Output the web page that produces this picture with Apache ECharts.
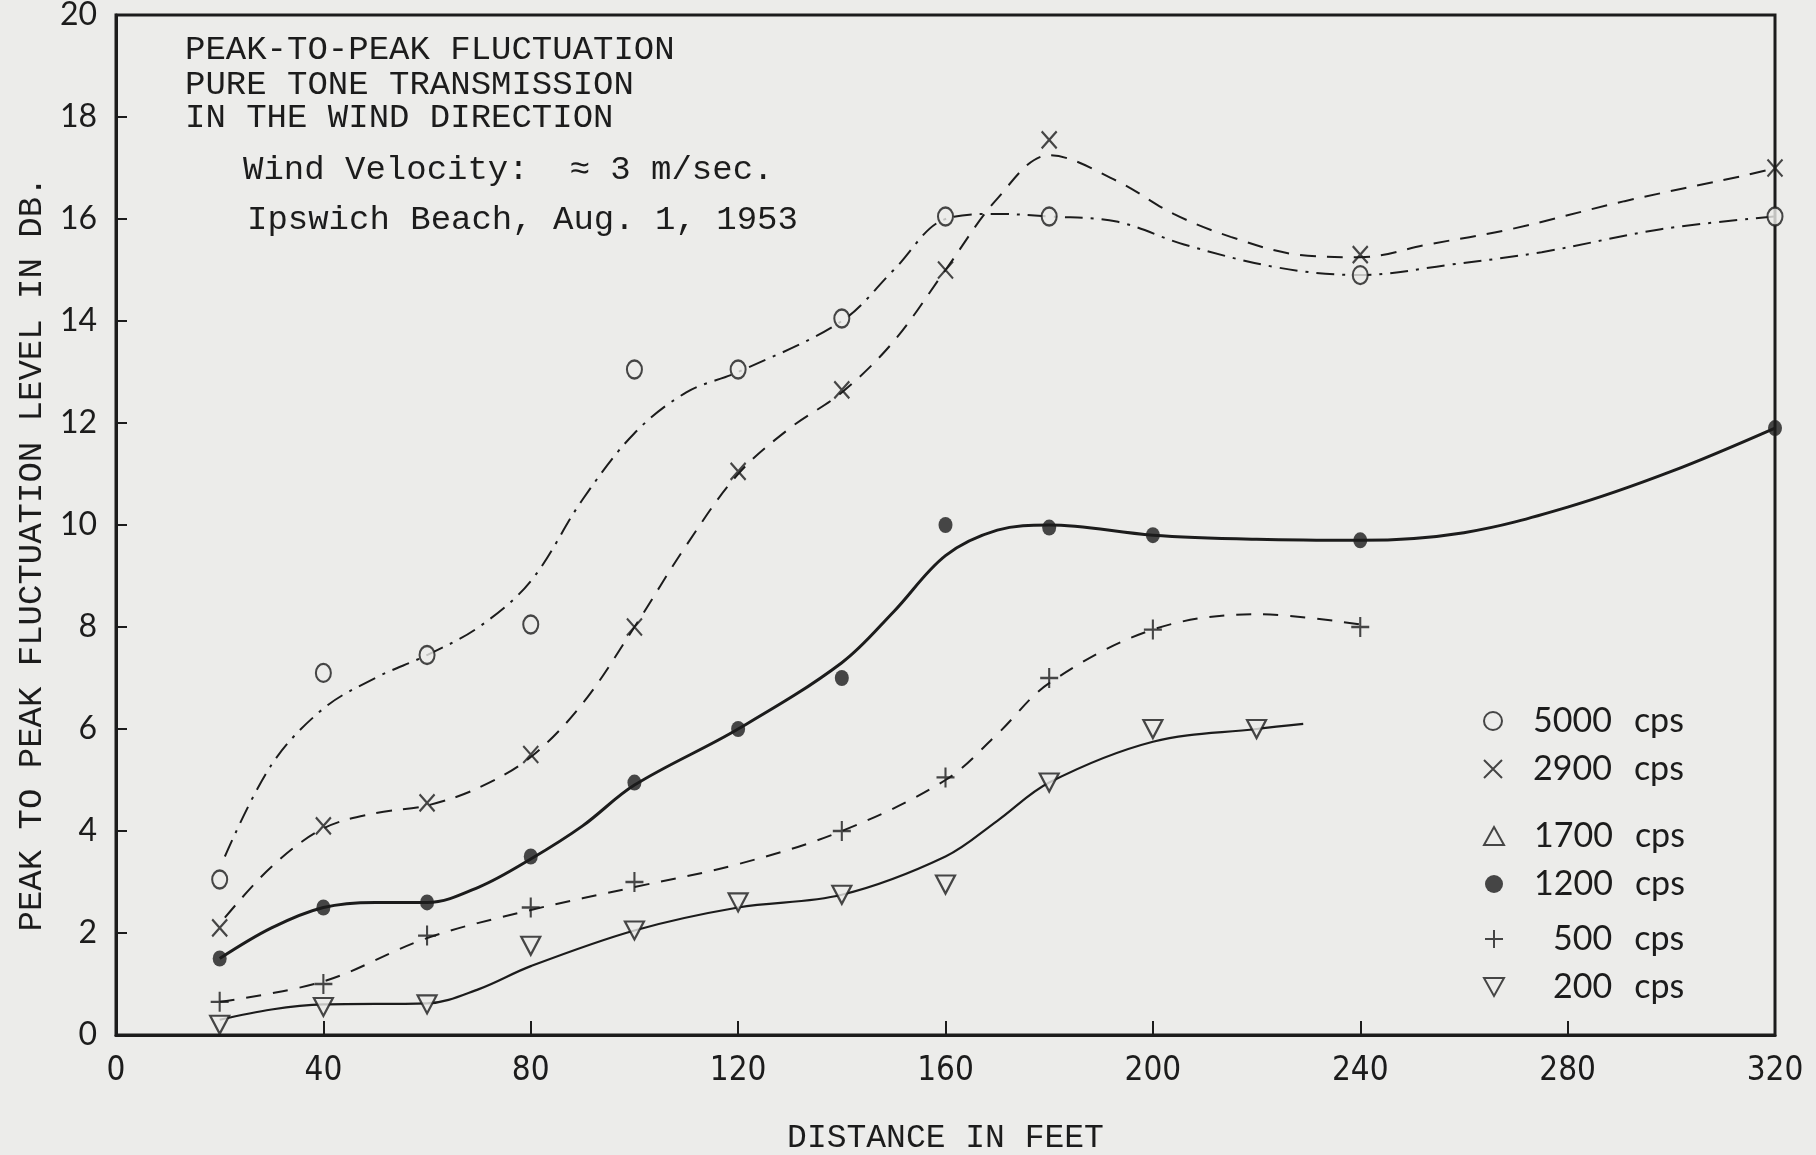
<!DOCTYPE html>
<html>
<head>
<meta charset="utf-8">
<title>Peak-to-peak fluctuation</title>
<script src="https://cdn.jsdelivr.net/npm/echarts/dist/echarts.min.js"></script>
<style>
  html, body { margin: 0; padding: 0; background: #ececea; }
  #main { width: 1816px; height: 1155px; }
</style>
</head>
<body>
<div id="main"></div>
<script>
// measured points (distance in feet, level in dB)
const dist5000 = [20, 40, 60, 80, 100, 120, 140, 160, 180, 240, 320];
const pts5000 = [3.05, 7.1, 7.45, 8.05, 13.05, 13.05, 14.05, 16.05, 16.05, 14.9, 16.05];
const dist2900 = [20, 40, 60, 80, 100, 120, 140, 160, 180, 240, 320];
const pts2900 = [2.1, 4.1, 4.55, 5.5, 8.0, 11.05, 12.65, 15.0, 17.55, 15.3, 17.0];
const dist1200 = [20, 40, 60, 80, 100, 120, 140, 160, 180, 200, 240, 320];
const pts1200 = [1.5, 2.5, 2.6, 3.5, 4.95, 6.0, 7.0, 10.0, 9.95, 9.8, 9.7, 11.9];
const dist500 = [20, 40, 60, 80, 100, 140, 160, 180, 200, 240];
const pts500 = [0.65, 1.0, 1.95, 2.5, 3.0, 4.0, 5.05, 7.0, 7.95, 8.0];
const dist200 = [20, 40, 60, 80, 100, 120, 140, 160, 180, 200, 220];
const pts200 = [0.2, 0.55, 0.6, 1.75, 2.05, 2.6, 2.75, 2.95, 4.95, 6.0, 6.0];

// hand-drawn curves
const cdist5000 = [21, 30, 40, 50, 60, 70, 80, 90, 100, 110, 120, 140, 150, 160, 170, 180, 193, 206, 224, 240, 257, 275, 298, 320];
const curve5000 = [3.5, 5.3, 6.4, 7.0, 7.45, 8.0, 8.9, 10.5, 11.8, 12.6, 13.0, 14.0, 15.0, 16.0, 16.1, 16.05, 15.95, 15.5, 15.05, 14.9, 15.1, 15.35, 15.8, 16.05];
const cdist2900 = [21, 30, 40, 50, 60, 70, 80, 90, 100, 110, 120, 130, 140, 150, 160, 170, 180, 193, 204, 215, 228, 240, 253, 269, 291, 314, 320];
const curve2900 = [2.3, 3.3, 4.05, 4.35, 4.5, 4.85, 5.45, 6.5, 8.0, 9.6, 11.0, 11.9, 12.6, 13.6, 15.0, 16.4, 17.25, 16.75, 16.1, 15.65, 15.3, 15.25, 15.5, 15.8, 16.35, 16.85, 17.0];
const cdist1200 = [20, 30, 40, 50, 60, 70, 80, 90, 100, 120, 140, 150, 160, 170, 180, 200, 220, 240, 260, 280, 300, 320];
const curve1200 = [1.5, 2.1, 2.5, 2.6, 2.6, 2.9, 3.45, 4.1, 4.9, 6.0, 7.3, 8.3, 9.4, 9.9, 10.0, 9.8, 9.72, 9.7, 9.85, 10.35, 11.05, 11.9];
const cdist500 = [20, 40, 60, 80, 100, 120, 140, 160, 170, 180, 200, 220, 240];
const curve500 = [0.65, 1.05, 1.9, 2.45, 2.9, 3.35, 4.0, 5.0, 5.9, 6.9, 7.95, 8.25, 8.05];
const cdist200 = [20, 30, 40, 60, 70, 80, 100, 120, 140, 160, 170, 180, 200, 220, 229];
const curve200 = [0.3, 0.5, 0.6, 0.62, 0.9, 1.35, 2.05, 2.5, 2.75, 3.5, 4.2, 4.95, 5.75, 6.0, 6.1];

const xTicks = [0, 40, 80, 120, 160, 200, 240, 280, 320];
const yTicks = [0, 2, 4, 6, 8, 10, 12, 14, 16, 18, 20];

const ink = '#1c1c1c';
const paper = '#ececea';
const mono = '"Liberation Mono", "DejaVu Sans Mono", monospace';
const lato = 'Lato, "Noto Sans", sans-serif';

function pairs(xs, ys) {
  return xs.map(function (x, i) { return [x, ys[i]]; });
}

function curve(name, xs, ys, type, width) {
  return {
    name: name,
    type: 'line',
    data: pairs(xs, ys),
    smooth: 0.35,
    symbol: 'none',
    silent: true,
    z: 2,
    lineStyle: { color: ink, width: width, type: type }
  };
}

function marks(name, xs, ys, symbol, size, filled) {
  return {
    name: name,
    type: 'scatter',
    data: pairs(xs, ys),
    symbol: symbol,
    symbolSize: size,
    z: 5,
    itemStyle: {
      color: filled ? ink : paper,
      borderColor: ink,
      borderWidth: filled ? 0 : 2.2
    }
  };
}

const crossPath = 'path://M0,0L10,10M10,0L0,10';
const plusPath = 'path://M5,0L5,10M0,5L10,5';
const downTri = 'path://M0,0L10,0L5,9Z';
const upTri = 'path://M5,0L10,9L0,9Z';

const chart = echarts.init(document.getElementById('main'));

const legendText = {
  fontFamily: lato,
  fontSize: 34,
  color: ink,
  lineHeight: 34,
  rich: {
    n4: { fontFamily: lato, fontSize: 34, color: ink, padding: [0, 0, 0, 25] },
    n3: { fontFamily: lato, fontSize: 34, color: ink, padding: [0, 0, 0, 44] },
    u: { fontFamily: lato, fontSize: 34, color: ink, padding: [0, 0, 0, 22] }
  }
};
function legendFmt(name) {
  const num = name.split(' ')[0];
  return '{' + (num.length === 4 ? 'n4' : 'n3') + '|' + num + '}{u|cps}';
}
function legendBlock(names, top) {
  return {
    data: names,
    orient: 'vertical',
    left: 1483,
    top: top,
    itemWidth: 20,
    itemHeight: 18,
    itemGap: 14,
    padding: 0,
    selectedMode: false,
    formatter: legendFmt,
    textStyle: legendText
  };
}

const titleLines = [
  ['PEAK-TO-PEAK FLUCTUATION', 185, 33],
  ['PURE TONE TRANSMISSION', 185, 68],
  ['IN THE WIND DIRECTION', 185, 101],
  ['Wind Velocity:  \u2248 3 m/sec.', 243, 153],
  ['Ipswich Beach, Aug. 1, 1953', 247, 203]
];

const option = {
  backgroundColor: paper,
  animation: false,
  title: titleLines.map(function (t) {
    return {
      text: t[0],
      left: t[1],
      top: t[2],
      padding: 0,
      textStyle: { fontFamily: mono, fontSize: 34, fontWeight: 'normal', color: ink, lineHeight: 34 }
    };
  }),
  legend: [
    legendBlock(['5000 cps', '2900 cps'], 704),
    legendBlock(['1700 cps', '1200 cps'], 819),
    legendBlock(['500 cps', '200 cps'], 922)
  ],
  grid: {
    left: 116, right: 41, top: 15, bottom: 120,
    outerBoundsMode: 'none',
    show: true, borderColor: ink, borderWidth: 3, backgroundColor: 'transparent'
  },
  xAxis: {
    type: 'value',
    min: xTicks[0],
    max: xTicks[xTicks.length - 1],
    interval: 40,
    name: 'DISTANCE IN FEET',
    nameLocation: 'middle',
    nameGap: 87,
    nameTextStyle: { fontFamily: mono, fontSize: 33, color: ink },
    axisLine: { lineStyle: { color: ink, width: 3 } },
    axisTick: { inside: true, length: 14, lineStyle: { color: ink, width: 2 } },
    axisLabel: {
      margin: 20,
      fontFamily: '"DejaVu Sans Condensed", "DejaVu Sans", sans-serif',
      fontSize: 33,
      color: ink
    },
    splitLine: { show: false }
  },
  yAxis: {
    type: 'value',
    min: yTicks[0],
    max: yTicks[yTicks.length - 1],
    interval: 2,
    name: 'PEAK TO PEAK FLUCTUATION LEVEL IN DB.',
    nameLocation: 'middle',
    nameGap: 66,
    nameTextStyle: { fontFamily: mono, fontSize: 34, color: ink, padding: [0, 58, 0, 0] },
    axisLine: { show: true, lineStyle: { color: ink, width: 3 } },
    axisTick: { show: true, inside: true, length: 11, lineStyle: { color: ink, width: 2 } },
    axisLabel: {
      margin: 19,
      fontFamily: lato,
      fontSize: 32,
      color: ink
    },
    splitLine: { show: false }
  },
  series: [
    curve('5000 curve', cdist5000, curve5000, [18, 8, 3, 8], 2),
    curve('2900 curve', cdist2900, curve2900, [16, 11], 2),
    curve('1200 curve', cdist1200, curve1200, 'solid', 3),
    curve('500 curve', cdist500, curve500, [15, 12], 2),
    curve('200 curve', cdist200, curve200, 'solid', 2.2),
    marks('5000 cps', dist5000, pts5000, 'circle', [15, 18], false),
    marks('2900 cps', dist2900, pts2900, crossPath, [15, 17], false),
    marks('1700 cps', [], [], upTri, [22, 18], false),
    marks('1200 cps', dist1200, pts1200, 'circle', [14, 16], true),
    marks('500 cps', dist500, pts500, plusPath, [18, 20], false),
    marks('200 cps', dist200, pts200, downTri, [19, 18], false)
  ]
};

chart.setOption(option);
</script>
</body>
</html>
